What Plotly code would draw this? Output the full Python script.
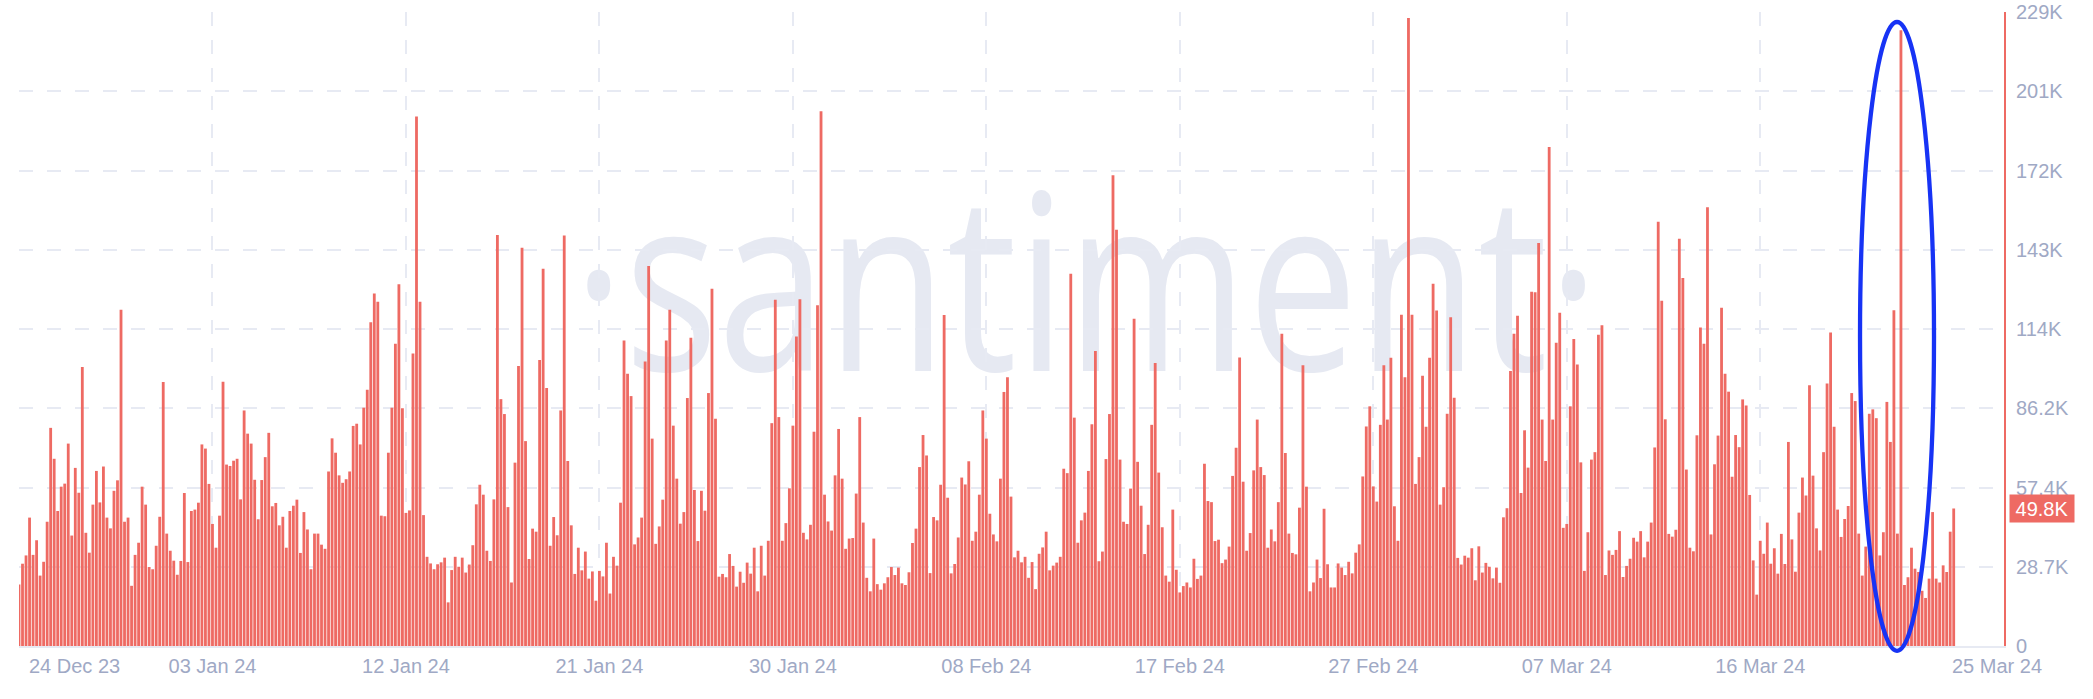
import pandas as pd
import plotly.graph_objects as go

seg1 = [22.3,29.8,32.8,46.5,33.0,38.3,25.5,30.5,45,79,67.8,48.9,57.7,58.8,73.3,40,64.5,55.5,101,41,33.8,51.2,63.4,52,65,46.5,42.6,56.2,60,121.8,45,46.5,21.8,33,37.4,57.7,51.2,28.6,27.8,36.3,46.8,95.6,40.7,34.5,30.9,25.8,30.8,55.4,30.4,48.9,49.4,51.9,73,71.5,58.7,44.2,35.6,47.2,95.7,65.7,65.2,67.1]
seg2 = [67.8,53.1,85.3,76.9,73.3,60.2,45.9,60.1,68.4,77.2,50.6,51.8,43.7,46.8,35.6,48.9,50.8,53,33.7,48.5,42.2,27.8,40.7,40.7,36.7,35.2,63.2,75.2,70,61.8,59.1,60.4,63.2,79.7,80.5,73,86.3,92.8,117.2,127.7,124.7,47.2,47,70,86.3,109.5,131,86.1,48.2,49.1,105.9,191.8,124.7,47.4,32.3,29.9,27.8,29.6,30.3,32,15.8,27.5]
seg3 = [32.3,28.7,32,26.6,29.5,36.5,51.3,58.4,54.8,34.5,30.8,53.1,148.8,89.4,84,50.3,23,66.4,101.4,144.2,74.2,31.5,42.5,41.4,103.6,136.6,93.4,36.3,46.7,40.1,85.3,148.7,67,43.7,26.1,35.6,27.4,34.2,24.4,27,16.4,27.2,25.2,37.4,19,32.3,29.1,51.9,110.6,98.6,90.5,36.8,39.3,46.5,103,137.6,75.1,37,43.3,53,110.6,121.8]
seg4 = [79.8,60.6,44.3,48.5,89.8,111.6,56.5,38,56.2,49,91.6,129.4,82.3,25.1,26.1,24.9,33.3,29,21.5,26.9,22.9,30.2,26.2,35.6,19.8,36.3,25.5,38.1,80.7,125.4,82.9,38.1,44.5,57.1,79.8,112.1,125.6,41,38.6,43.9,77.6,123.4,193.7,54.8,45.1,41.8,61.8,78.6,60.6,35.2,38.9,39.1,55.2,82.9,44.7,24.7,19.8,38.9,22.4,20.4,22.7,24.9]
seg5 = [28.6,25.7,28.4,22.7,22.1,26.7,37.3,42.5,64.8,76.4,69,26.4,46.7,45.5,58.4,119.9,53.7,26.3,29.7,39.3,61,58.5,66.9,38.1,41.4,54.8,85.3,75.1,47.9,40.4,37.9,60.6,92,97.3,54.1,32.1,34.5,30.3,32.3,24.7,30.4,20.6,33.4,35.7,41.4,27.4,29.1,30.2,32.3,64.2,62.6,134.8,82.7,37.4,45.5,48.3,63.4,80.3,106.8,30.7,34.2,67.7]
seg6 = [84,170.5,150.7,67.5,45,44.2,57,118.5,66.7,50.8,33.3,43.9,80.1,102.5,62.8,43,25.5,23.3,49.4,27.6,19.4,21.7,23,21.2,31.6,24.3,25.5,66,52.5,52.1,38,38.5,30,31.3,36,61.6,71.8,104.5,59.5,34.5,40.9,63.6,82,64.8,61.9,35.6,42.2,37.9,52.1,113.1,69.9,40.7,33.7,33.2,50.1,101.7,57.7,19.8,23,31.3,24.6,49.7]
seg7 = [29.6,21.2,21.2,29.9,28.4,25.7,30.5,26.3,33.8,36.8,61.4,79.5,86.8,57.8,52.3,80.1,101.7,82,104.4,50.6,38.1,120,97.3,227.4,120,58.7,68.4,97.9,79.4,104.4,131.2,121.5,51.2,57.5,84.1,119.1,89.9,31.9,29.5,32.7,32,35.4,23.8,36.1,26.6,30.1,28.7,24.5,28.4,22.9,46.6,49.9,99.6,113.1,119.6,55.4,78.1,64.6,128.3,128.1,145.9,82]
seg8 = [67,180.7,82,109.8,120.7,42.8,44.2,86.8,111.2,101.9,66.5,27.2,41.2,67.5,70.2,112.7,116.2,25.7,34.6,33,34.8,41.6,25,29,31.6,39.2,37.8,41.6,32.1,37.8,44.7,71.9,153.6,125,82.1,40.6,39.6,42.1,147.5,133.3,63.9,35.6,34.3,76.3,115.3,109.5,158.9,40.4,65.8,76.2,122.5,98.6,92.1,61.3,76.4,72,89.3,87.1,54.7,31,18.6,38.1]
seg9 = [33.4,44.7,29.8,35.4,26.2,40.6,29.7,73.9,38.6,26.9,48.3,61,54.5,94.4,61.7,42.6,34.6,70.2,95.1,113.5,79.4,49.4,39.5,46,50.7,91.6,88.7,40.7,25.5,36,84.1,85.7,82.5,32.8,41.2,88.4,73.9,121.6,40.7,223,22.1,24.9,35.6,28,26.8,20,17.4,24.4,48.5,24.4,23,29.2,26.8,41.4,49.8]
values = seg1 + seg2 + seg3 + seg4 + seg5 + seg6 + seg7 + seg8 + seg9

ytick_vals = [0, 28.7, 57.4, 86.1, 114.8, 143.5, 172.2, 200.9, 229.6]
ytick_text = ["0", "28.7K", "57.4K", "86.2K", "114K", "143K", "172K", "201K", "229K"]
x_labels = ["24 Dec 23", "03 Jan 24", "12 Jan 24", "21 Jan 24", "30 Jan 24", "08 Feb 24",
            "17 Feb 24", "27 Feb 24", "07 Mar 24", "16 Mar 24", "25 Mar 24"]
latest_label = "49.8K"
watermark = "·santiment·"

W, H = 2093, 699
L, R, T, B = 18.7, 2004, 12, 645.7
RED = "#ee6a63"
GRID = "#e7eaf3"
TEXT = "#9fa9c5"
FS = 20

times = pd.date_range("2023-12-24 16:00", periods=len(values), freq="4h")
t0, t1 = times[0], times[-1]
span = t1 - t0
ticks = [t0 + span * (i / 10) for i in range(11)]
x_end = t1 + span * ((R - 1953.7) / (1953.7 - L))

def px(x):
    return (x - L) / (R - L)
def py(y):
    return (B - y) / (B - T)

fig = go.Figure(go.Bar(x=times, y=values, marker=dict(color=RED, line=dict(width=0)), hoverinfo="skip"))
fig.update_layout(
    width=W, height=H, margin=dict(l=L, r=W - R, t=T, b=H - B, pad=0),
    plot_bgcolor="white", paper_bgcolor="white", showlegend=False, bargap=0.2,
    font=dict(family="Liberation Sans", size=FS, color=TEXT),
    xaxis=dict(type="date", range=[t0, x_end], tickmode="array", tickvals=ticks[:10],
               ticktext=[""] + x_labels[1:10], showgrid=True, gridcolor=GRID, gridwidth=2,
               griddash="14px,14px", showline=True, linecolor=GRID, linewidth=2, ticks="",
               zeroline=False, tickangle=0, ticklabelstandoff=1, automargin=False),
    yaxis=dict(side="right", range=[0, 229.6], tickmode="array", tickvals=ytick_vals,
               ticktext=ytick_text, showgrid=True, gridcolor=GRID, gridwidth=2,
               griddash="14px,14px", showline=True, linecolor=RED, linewidth=2, ticks="",
               zeroline=False, ticklabelstandoff=6, automargin=False),
    shapes=[
        dict(type="rect", xref="paper", yref="paper", x0=px(486), x1=px(1686), y0=py(443), y1=py(143),
             line=dict(width=0), fillcolor="rgba(0,0,0,0)", layer="below",
             label=dict(text=watermark, font=dict(family="Open Sans", size=245, color="#e6e9f2"),
                        textposition="middle center")),
        dict(type="circle", xref="paper", yref="paper", x0=px(1860), x1=px(1934), y0=py(650.5), y1=py(22),
             line=dict(color="#1733f5", width=4.3), layer="above"),
    ],
    annotations=[
        dict(text=x_labels[0], xref="x", yref="paper", x=t0, y=py(665.5), xanchor="left", yanchor="middle",
             xshift=8, showarrow=False, font=dict(size=FS, color=TEXT)),
        dict(text=x_labels[10], xref="x", yref="paper", x=ticks[10], y=py(665.5), xanchor="left", yanchor="middle",
             xshift=-4, showarrow=False, font=dict(size=FS, color=TEXT)),
        dict(text=latest_label, xref="paper", yref="y", x=px(2009), y=values[-1], xanchor="left", yanchor="middle",
             showarrow=False, bgcolor=RED, width=64, height=27, borderpad=0,
             font=dict(size=FS, color="white")),
    ],
)
squeeze = """
document.body.style.margin = '0';
var wm = Array.from(document.querySelectorAll('.shapelayer text')).find(function (t) {
  return t.textContent.indexOf('santiment') >= 0;
});
if (wm) {
  var b = wm.getBBox();
  var cx = b.x + b.width / 2;
  wm.setAttribute('transform', 'translate(' + cx + ',0) scale(0.8,1) translate(' + (-cx) + ',0)');
}
"""
fig.write_html("out.html", config={"displayModeBar": False}, post_script=squeeze)
